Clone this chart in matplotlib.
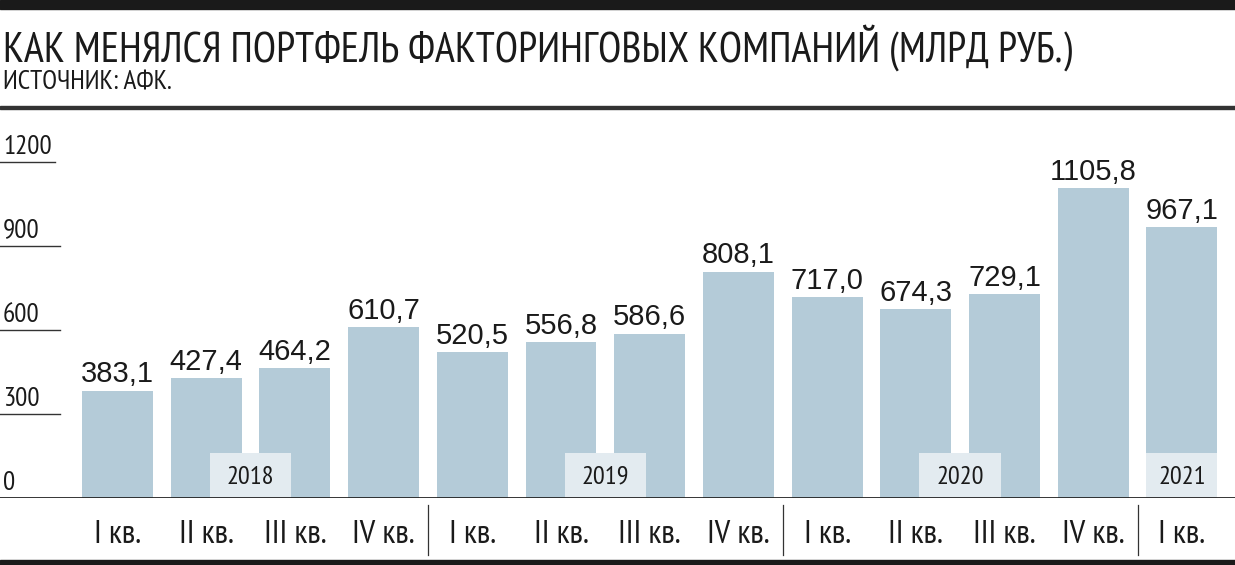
import matplotlib.pyplot as plt
from matplotlib.patches import Rectangle

# данные
kvartaly = ['I кв.', 'II кв.', 'III кв.', 'IV кв.',
            'I кв.', 'II кв.', 'III кв.', 'IV кв.',
            'I кв.', 'II кв.', 'III кв.', 'IV кв.',
            'I кв.']
portfel = [383.1, 427.4, 464.2, 610.7, 520.5, 556.8, 586.6, 808.1,
           717.0, 674.3, 729.1, 1105.8, 967.1]
gody = ['2018', '2019', '2020', '2021']
gody_pos = [1.5, 5.5, 9.5, 12]
y_ticks = [0, 300, 600, 900, 1200]

cor_barra = '#b4cbd8'
cor_ano = '#e3ebf0'
cor_texto = '#1a1a1a'
narrow = ['PT Sans Narrow', 'DejaVu Sans']

W, H = 1235, 565
fig = plt.figure(figsize=(W / 100, H / 100), dpi=100)

# оси: базовая линия на y=498 px, верх на y=120 px
base_px, top_px = 498, 120
ax = fig.add_axes([0, (H - base_px) / H, 1, (base_px - top_px) / H])
step = 88.7
x0 = 117.5
ax.set_xlim(-x0 / step, (W - x0) / step)
ax.set_ylim(0, (base_px - top_px) / 0.28)
ax.axis('off')

xs = list(range(len(portfel)))
ax.bar(xs, portfel, width=0.8, color=cor_barra, zorder=2)

for x, v in zip(xs, portfel):
    ax.annotate(f'{v:.1f}'.replace('.', ','), (x, v), xytext=(0, 6),
                textcoords='offset points', ha='center', va='baseline',
                fontsize=21, family='Liberation Sans', color=cor_texto)

# плашки с годами
for g, p in zip(gody, gody_pos):
    w = 0.8 if g == '2021' else 0.92
    ax.add_patch(Rectangle((p - w / 2, 0), w, 160, color=cor_ano, zorder=3, lw=0))
    ax.text(p, 75, g, ha='center', va='center', fontsize=19,
            family=narrow, color=cor_texto, zorder=4)

# шкала слева
for t in y_ticks:
    if t > 0:
        ax.plot([0, 55 / W if t == 1200 else 60 / W], [t, t], color='#333333',
                lw=1, transform=ax.get_yaxis_transform(), zorder=1)
    ax.text(3 / W, t + 30, str(t), ha='left', va='baseline', fontsize=19.5,
            family=narrow, color=cor_texto, transform=ax.get_yaxis_transform())

ax.axhline(0, color='#222222', lw=2, zorder=5)

# подписи кварталов и разделители
ah = base_px - top_px
for x, k in zip(xs, kvartaly):
    ax.text(x, -45 / ah, k, ha='center', va='baseline', fontsize=24,
            family=narrow, color=cor_texto, transform=ax.get_xaxis_transform(),
            clip_on=False)
for s in [3.5, 7.5, 11.5]:
    ax.plot([s, s], [-7 / ah, -57 / ah], color='#333333', lw=0.9,
            transform=ax.get_xaxis_transform(), clip_on=False)

# линии оформления
fig.patches.append(Rectangle((0, 1 - 9 / H), 1, 9 / H, color='#1a1a1a',
                             transform=fig.transFigure, figure=fig))
fig.patches.append(Rectangle((0, 1 - 109 / H), 1, 3 / H, color='#333333',
                             transform=fig.transFigure, figure=fig))
fig.patches.append(Rectangle((0, 0), 1, 5 / H, color='#1a1a1a',
                             transform=fig.transFigure, figure=fig))

titulo = fig.text(3 / W, 1 - 62 / H,
                  'КАК МЕНЯЛСЯ ПОРТФЕЛЬ ФАКТОРИНГОВЫХ КОМПАНИЙ (МЛРД РУБ.)',
                  ha='left', va='baseline', fontsize=33, family=narrow, color=cor_texto)
# подгоняем ширину заголовка под ~1067 px
r = fig.canvas.get_renderer()
larg = titulo.get_window_extent(r).width
titulo.set_fontsize(33 * min(1.15, 1067 / larg))

fig.text(3 / W, 1 - 90 / H, 'ИСТОЧНИК: АФК.', ha='left', va='baseline',
         fontsize=19.5, family=narrow, color=cor_texto)

fig.savefig('out.png', dpi=100)
